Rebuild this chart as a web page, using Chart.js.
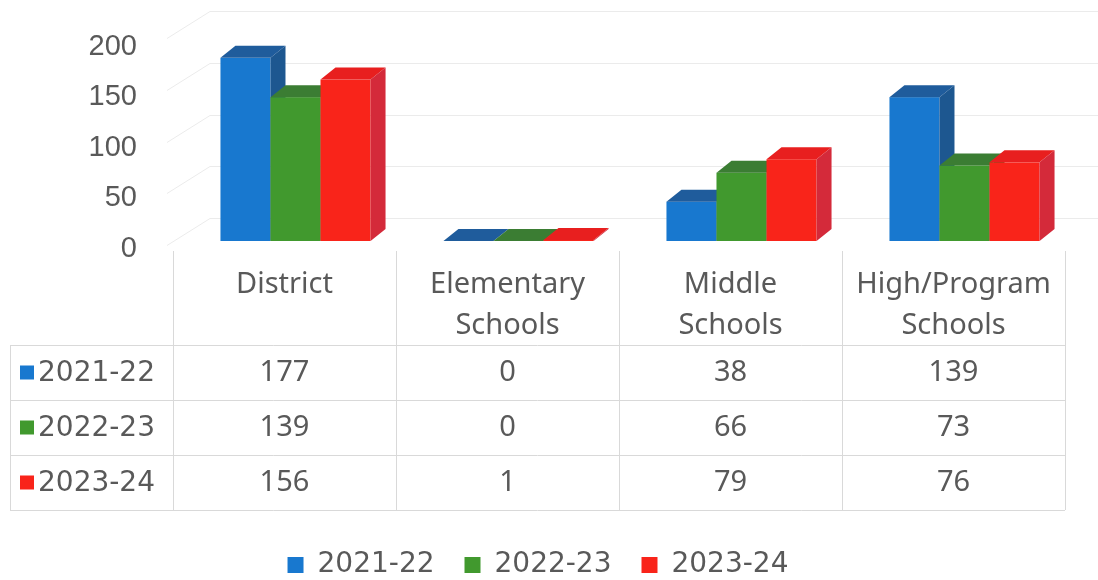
<!DOCTYPE html>
<html>
<head>
<meta charset="utf-8">
<title>Counts by school level</title>
<script src="https://cdn.jsdelivr.net/npm/chart.js@4/dist/chart.umd.min.js"></script>
<style>
  html, body { margin: 0; padding: 0; background: #fff; }
  #chart { display: block; }
</style>
</head>
<body>
<canvas id="chart" width="1098" height="580"></canvas>
<script>
'use strict';

/* ── Data ───────────────────────────────────────────────────────── */
const categories   = [['District'], ['Elementary', 'Schools'], ['Middle', 'Schools'], ['High/Program', 'Schools']];
const seriesLabels = ['2021-22', '2022-23', '2023-24'];
const values2122   = [177, 0, 38, 139];
const values2223   = [139, 0, 66, 73];
const values2324   = [156, 1, 79, 76];
const yTickValues  = [0, 50, 100, 150, 200];

/* ── Styles ─────────────────────────────────────────────────────── */
const FRONT = ['#1878cf', '#41992e', '#f9241a'];
const TOP   = ['#1f5c9c', '#3b7d33', '#e81f1f'];
const SIDE  = ['#1d5790', '#33702c', '#d42a3a'];
const DX = 15, DY = 12;          // extrusion of the 3D bars
const WALL_DY = 23;              // back wall offset
const TABLE_SHIFT = 11;          // table columns sit a little left of the bar fronts
const TEXT = '#595959';
const GRID = '#d9d9d9';

function poly(ctx, pts, color) {
  ctx.beginPath();
  ctx.moveTo(pts[0][0], pts[0][1]);
  for (let i = 1; i < pts.length; i++) ctx.lineTo(pts[i][0], pts[i][1]);
  ctx.closePath();
  ctx.fillStyle = color;
  ctx.fill();
}

/* ── Back wall + 3D bars ────────────────────────────────────────── */
const bar3d = {
  id: 'bar3d',
  beforeDatasetsDraw(chart) {
    const { ctx, chartArea, scales: { y } } = chart;
    ctx.save();

    // faint back wall and side wall lines
    ctx.strokeStyle = '#ebebeb';
    ctx.lineWidth = 1;
    yTickValues.forEach(v => {
      const yy = Math.round(y.getPixelForValue(v) - WALL_DY) + 0.5;
      ctx.beginPath();
      ctx.moveTo(chartArea.left - 17, yy + 27);
      ctx.lineTo(chartArea.left + 26, yy);
      ctx.lineTo(chart.width, yy);
      ctx.stroke();
    });

    // bars: left to right so each front hides the previous side
    const metas = chart.data.datasets.map((d, i) => chart.getDatasetMeta(i));
    for (let c = 0; c < chart.data.labels.length; c++) {
      metas.forEach((meta, s) => {
        const el = meta.data[c];
        const { x, y: yv, base, width } = el.getProps(['x', 'y', 'base', 'width'], true);
        const l = x - width / 2, r = x + width / 2;
        const top = Math.min(yv, base), bot = Math.max(yv, base);
        ctx.fillStyle = FRONT[s];
        ctx.fillRect(l, top, width, bot - top);
        poly(ctx, [[l, top], [l + DX, top - DY], [r + DX, top - DY], [r, top]], TOP[s]);
        poly(ctx, [[r, top], [r + DX, top - DY], [r + DX, bot - DY], [r, bot]], SIDE[s]);
      });
    }
    ctx.restore();
    return false;
  }
};

/* ── Data table under the plot ──────────────────────────────────── */
const dataTable = {
  id: 'dataTable',
  afterDraw(chart) {
    const { ctx, chartArea, scales: { x } } = chart;
    const half = (x.getPixelForValue(1) - x.getPixelForValue(0)) / 2;
    const centers = chart.data.labels.map((_, i) => x.getPixelForValue(i) - TABLE_SHIFT);
    const colLeft = centers[0] - half;
    const colRight = centers[centers.length - 1] + half;
    const headTop = chartArea.bottom + 2;
    const headBot = chartArea.bottom + 96;
    const rowH = 55;
    const nRows = chart.data.datasets.length;
    const tableBot = headBot + rowH * nRows;
    const tableLeft = 10;

    ctx.save();
    ctx.strokeStyle = GRID;
    ctx.lineWidth = 1;

    // vertical lines
    for (let i = 0; i <= centers.length; i++) {
      const xx = Math.round(colLeft + i * 2 * half) + 0.5;
      ctx.beginPath();
      ctx.moveTo(xx, headTop);
      ctx.lineTo(xx, tableBot);
      ctx.stroke();
    }
    ctx.beginPath();
    ctx.moveTo(tableLeft + 0.5, headBot);
    ctx.lineTo(tableLeft + 0.5, tableBot);
    ctx.stroke();

    // horizontal lines
    for (let r = 0; r <= nRows; r++) {
      const yy = Math.round(headBot + r * rowH) + 0.5;
      ctx.beginPath();
      ctx.moveTo(tableLeft, yy);
      ctx.lineTo(colRight, yy);
      ctx.stroke();
    }

    // header labels
    ctx.fillStyle = TEXT;
    ctx.textAlign = 'center';
    ctx.textBaseline = 'middle';
    ctx.font = '29px "Noto Sans"';
    chart.data.labels.forEach((lines, i) => {
      lines.forEach((t, k) => ctx.fillText(t, centers[i], chartArea.bottom + 36 + k * 41));
    });

    // rows: legend key, series name, values
    chart.data.datasets.forEach((ds, r) => {
      const cy = headBot + r * rowH + rowH / 2;
      ctx.fillStyle = FRONT[r];
      ctx.fillRect(20, cy - 7, 14, 14);
      ctx.fillStyle = TEXT;
      ctx.textAlign = 'left';
      ctx.font = '28px "DejaVu Sans"';
      ctx.fillText(ds.label, 38, cy + 1);
      ctx.textAlign = 'center';
      ctx.font = '29px "Noto Sans"';
      ds.data.forEach((v, i) => ctx.fillText(String(v), centers[i], cy));
    });
    ctx.restore();
  }
};

/* ── Chart ──────────────────────────────────────────────────────── */
new Chart(document.getElementById('chart'), {
  type: 'bar',
  data: {
    labels: categories,
    datasets: [
      { label: seriesLabels[0], data: values2122, backgroundColor: FRONT[0], borderWidth: 0, yAxisID: 'y' },
      { label: seriesLabels[1], data: values2223, backgroundColor: FRONT[1], borderWidth: 0, yAxisID: 'y' },
      { label: seriesLabels[2], data: values2324, backgroundColor: FRONT[2], borderWidth: 0, yAxisID: 'y' },
    ],
  },
  options: {
    responsive: false,
    animation: false,
    devicePixelRatio: 1,
    categoryPercentage: 0.673,
    barPercentage: 1.0,
    layout: { padding: { top: 18, right: 22, left: 0, bottom: -9 } },
    plugins: {
      tooltip: { enabled: false },
      legend: {
        position: 'bottom',
        labels: {
          boxWidth: 16,
          boxHeight: 16,
          padding: 30,
          color: TEXT,
          font: { family: '"DejaVu Sans"', size: 28 },
        },
      },
    },
    scales: {
      x: {
        grid: { display: false },
        border: { display: false },
        ticks: { display: false },
        afterFit: s => { s.height = 589 - 68 - 249; },
      },
      // scale used by the bars (front plane); shown only as a spacer
      y: {
        min: -7.73,
        max: 215.5,
        grid: { display: false },
        border: { display: false },
        ticks: { display: false },
        afterFit: s => { s.width = 47; },
      },
      // scale that carries the tick labels
      yt: {
        position: 'left',
        min: 0,
        max: 228.7,
        grid: { display: false, drawTicks: false },
        border: { display: false },
        ticks: {
          stepSize: 50,
          includeBounds: false,
          padding: 0,
          color: TEXT,
          font: { family: '"Liberation Sans"', size: 29 },
        },
        afterFit: s => { s.width = 137; },
      },
    },
  },
  plugins: [bar3d, dataTable],
});
</script>
</body>
</html>
